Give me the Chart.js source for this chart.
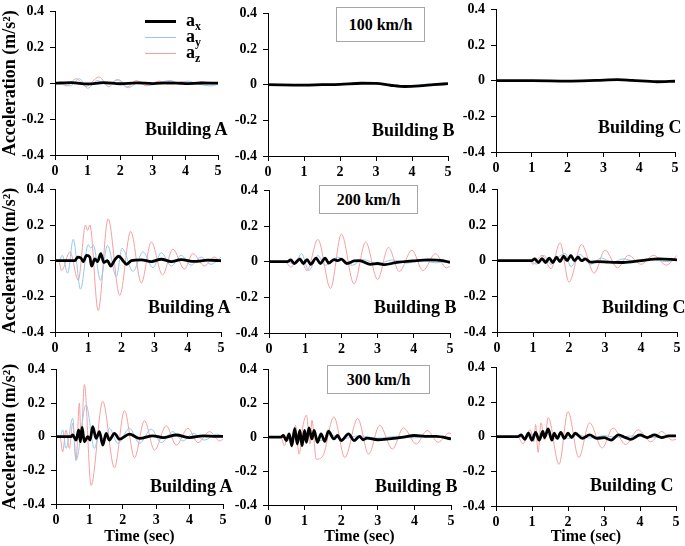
<!DOCTYPE html>
<html>
<head>
<meta charset="utf-8">
<script src="https://cdn.jsdelivr.net/npm/chart.js@4.4.1/dist/chart.umd.min.js"></script>
<style>
  html, body { margin: 0; padding: 0; background: #fff; }
  body { width: 685px; height: 546px; position: relative; overflow: hidden;
         font-family: "Liberation Serif", "Times New Roman", serif; font-weight: bold; color: #000; }
  canvas { position: absolute; }
  .lbl { position: absolute; font-size: 18px; line-height: 22px; white-space: nowrap; z-index: 2; }
  .box { position: absolute; border: 1px solid #a6a6a6; background: #fff; font-size: 16px; z-index: 2;
         display: flex; align-items: center; justify-content: center; box-sizing: border-box; }
  .key { position: absolute; left: 145px; width: 31px; z-index: 2; }
  .keytxt { position: absolute; left: 186px; font-size: 18px; line-height: 20px; z-index: 2; }
  .keytxt sub { font-size: 12px; vertical-align: -4px; }
</style>
</head>
<body>
<script>
// ---- data (time in s, acceleration in m/s^2) ----
const timeTicks = [0, 1, 2, 3, 4, 5];
const accelTicks = [-0.4, -0.2, 0, 0.2, 0.4];
const seriesNames = ["ax", "ay", "az"];
const buildings = ["Building A", "Building B", "Building C"];
const speeds = ["100 km/h", "200 km/h", "300 km/h"];

// 100 km/h
const ax_A100 = [[0,0],[0.5,0.003],[1.0,-0.004],[1.5,0.003],[2.0,-0.003],[2.5,0.002],[3.0,-0.002],[3.5,0.002],[4.0,-0.002],[4.5,0.001],[5,0]];
const ay_A100 = [[0,0],[0.2,0],[0.45,-0.015],[0.75,0.025],[1.0,-0.028],[1.3,0.015],[1.6,-0.01],[1.95,0.02],[2.25,-0.025],[2.6,0.008],[2.9,-0.012],[3.2,0.004],[3.55,0.015],[3.85,-0.008],[4.05,0.012],[4.4,-0.005],[4.8,-0.015],[5,-0.005]];
const az_A100 = [[0,0],[0.15,0],[0.35,-0.015],[0.65,0.025],[0.95,-0.018],[1.35,0.035],[1.65,-0.02],[1.9,0.02],[2.2,-0.022],[2.5,0.015],[2.8,-0.015],[3.2,0.012],[3.5,-0.008],[3.95,0.01],[4.25,-0.005],[4.5,0.008],[4.8,-0.005],[5,0]];
const ax_B100 = [[0,0],[1,-0.002],[1.5,0],[2,0.002],[2.6,0.008],[3.0,0.007],[3.4,-0.003],[3.8,-0.01],[4.2,-0.007],[4.6,0],[5,0.006]];
const ay_B100 = [[0,0],[1,-0.003],[2,0.002],[2.6,0.006],[3.1,0.004],[3.5,-0.006],[4.0,-0.008],[4.4,0.003],[5,0.004]];
const az_B100 = [[0,0],[1,0.002],[2,0.005],[2.6,0.01],[3.0,0.006],[3.6,-0.007],[4.0,-0.009],[4.6,0.002],[5,0.005]];
const ax_C100 = [[0,0],[1,0],[2,-0.002],[2.8,0.002],[3.4,0.006],[3.8,0.002],[4.5,-0.006],[5,-0.003]];
const ay_C100 = [[0,0],[1,-0.002],[2,0],[3,0.003],[3.5,0.004],[4.3,-0.004],[5,-0.002]];
const az_C100 = [[0,0],[1,0.001],[2,-0.003],[3,0.004],[3.5,0.003],[4.4,-0.005],[5,-0.004]];

// 200 km/h
const ax_A200 = [[0,0],[0.6,0],[0.68,0.02],[0.78,0.015],[0.85,-0.005],[0.95,0.03],[1.05,0.02],[1.1,-0.03],[1.2,0.01],[1.28,-0.005],[1.38,0.04],[1.47,-0.01],[1.58,0.0],[1.68,-0.03],[1.8,0.005],[1.92,0.025],[2.05,0.0],[2.15,-0.02],[2.3,0.0],[2.6,0.005],[2.9,-0.005],[3.2,0.008],[3.5,-0.005],[3.8,0.006],[4.2,-0.004],[4.6,0.003],[5,0]];
const ay_A200 = [[0,0],[0.12,0],[0.22,0.03],[0.38,-0.07],[0.55,0.12],[0.77,-0.16],[1.0,0.09],[1.08,0.07],[1.15,0.09],[1.37,-0.11],[1.58,0.085],[1.85,-0.09],[2.02,0.07],[2.35,-0.06],[2.65,0.05],[2.95,-0.04],[3.2,0.045],[3.5,-0.03],[3.8,0.03],[4.1,-0.025],[4.4,0.02],[4.7,-0.02],[5,0.02]];
const az_A200 = [[0,0],[0.1,0],[0.2,-0.055],[0.45,0.05],[0.7,-0.11],[0.92,0.2],[0.98,0.17],[1.05,0.2],[1.3,-0.28],[1.6,0.235],[1.95,-0.195],[2.28,0.165],[2.6,-0.125],[2.9,0.105],[3.24,-0.08],[3.55,0.065],[3.9,-0.047],[4.15,0.04],[4.5,-0.03],[4.8,0.02],[5,-0.01]];
const ax_B200 = [[0,0],[0.5,0],[0.6,0.01],[0.7,-0.01],[0.85,0.015],[0.95,-0.01],[1.05,0.012],[1.15,-0.015],[1.3,0.02],[1.42,-0.01],[1.55,0.02],[1.65,-0.008],[1.8,0.012],[1.9,0.006],[2.0,0.015],[2.15,-0.01],[2.35,0.004],[2.5,0.006],[2.8,-0.015],[3.0,-0.01],[3.2,-0.016],[3.5,-0.005],[4.0,0.005],[4.4,0.01],[4.8,0.006],[5,-0.004]];
const ay_B200 = [[0,0],[0.5,0],[0.7,-0.015],[0.9,0.045],[1.1,-0.05],[1.35,0.035],[1.55,-0.02],[1.9,0.025],[2.3,-0.02],[2.6,0.012],[3.0,-0.012],[3.4,0.01],[3.8,-0.008],[4.2,0.008],[4.6,-0.006],[5,0.004]];
const az_B200 = [[0,0],[0.45,0],[0.6,-0.03],[0.85,0.025],[1.05,-0.05],[1.35,0.125],[1.7,-0.15],[2.0,0.155],[2.35,-0.125],[2.67,0.11],[3.0,-0.1],[3.3,0.08],[3.6,-0.055],[3.95,0.065],[4.25,-0.05],[4.6,0.045],[4.9,-0.035],[5,-0.025]];
const ax_C200 = [[0,0],[0.95,0],[1.05,0.01],[1.15,-0.01],[1.25,0.012],[1.35,-0.01],[1.45,0.015],[1.55,-0.01],[1.65,0.02],[1.75,-0.005],[1.85,0.025],[1.95,0.0],[2.05,0.03],[2.15,0.0],[2.25,0.02],[2.35,0.0],[2.45,0.01],[2.6,-0.008],[2.8,-0.005],[3.1,-0.008],[3.5,-0.01],[4.0,0.0],[4.5,0.01],[5,0.005]];
const ay_C200 = [[0,0],[0.9,0],[1.1,-0.02],[1.3,0.03],[1.5,-0.02],[1.7,0.02],[1.9,0.04],[2.05,-0.035],[2.3,0.035],[2.6,-0.02],[2.9,0.015],[3.2,-0.01],[3.5,0.01],[3.9,-0.006],[4.3,0.006],[4.7,-0.005],[5,0.004]];
const az_C200 = [[0,0],[0.9,0],[1.0,-0.02],[1.25,0.03],[1.5,-0.045],[1.75,0.1],[2.0,-0.12],[2.35,0.09],[2.7,-0.07],[3.0,0.06],[3.35,-0.04],[3.65,0.03],[4.0,-0.02],[4.35,0.03],[4.7,-0.025],[5,0.03]];

// 300 km/h
const ax_A300 = [[0,0],[0.45,0],[0.5,0.01],[0.6,-0.02],[0.68,0.04],[0.73,-0.03],[0.78,0.055],[0.85,-0.03],[0.95,0.0],[1.02,-0.02],[1.1,0.06],[1.2,-0.01],[1.3,0.03],[1.4,-0.05],[1.5,0.02],[1.6,-0.02],[1.75,0.02],[1.9,-0.015],[2.2,0.015],[2.5,-0.01],[2.9,0.005],[3.2,-0.005],[3.6,0.01],[4.0,-0.005],[4.4,0.005],[4.8,0.002],[5,0.002]];
const ay_A300 = [[0,0],[0.12,0],[0.2,0.04],[0.3,-0.07],[0.5,0.11],[0.6,-0.14],[0.9,0.19],[1.15,-0.07],[1.3,0.02],[1.45,-0.03],[1.6,0.05],[1.85,-0.04],[2.2,0.05],[2.5,-0.04],[2.85,0.045],[3.15,-0.035],[3.5,0.03],[3.8,-0.025],[4.1,0.02],[4.45,-0.02],[4.8,0.015],[5,0.005]];
const az_A300 = [[0,0],[0.12,0],[0.2,-0.09],[0.3,0.04],[0.4,-0.07],[0.5,0.08],[0.6,-0.14],[0.7,0.2],[0.75,-0.02],[0.85,0.31],[1.05,-0.29],[1.4,0.21],[1.75,-0.185],[2.05,0.155],[2.35,-0.125],[2.65,0.095],[2.95,-0.08],[3.3,0.065],[3.6,-0.05],[3.95,0.05],[4.25,-0.035],[4.6,0.03],[4.9,-0.025],[5,-0.015]];
const ax_B300 = [[0,0],[0.35,0],[0.42,0.01],[0.5,-0.02],[0.58,0.02],[0.65,-0.05],[0.73,0.05],[0.8,-0.04],[0.87,0.04],[0.93,-0.05],[1.0,0.04],[1.05,-0.03],[1.12,0.055],[1.2,-0.01],[1.26,0.04],[1.35,-0.03],[1.45,0.02],[1.55,-0.025],[1.65,0.035],[1.8,-0.01],[1.9,0.01],[2.0,-0.02],[2.2,0.02],[2.35,-0.02],[2.5,0.005],[2.6,-0.015],[2.7,-0.005],[3.0,-0.015],[3.3,-0.01],[3.7,0.0],[4.0,0.01],[4.3,0.005],[4.6,0.005],[5,-0.01]];
const ay_B300 = [[0,0],[0.4,0],[0.6,-0.02],[0.8,0.02],[1.0,-0.02],[1.2,0.02],[1.45,-0.02],[1.7,0.015],[2.0,-0.01],[2.5,0.008],[3.0,-0.006],[3.5,0.005],[4.0,-0.004],[4.5,0.004],[5,-0.003]];
const az_B300 = [[0,0],[0.35,0],[0.45,-0.05],[0.55,0.02],[0.65,-0.06],[0.75,0.07],[0.85,-0.1],[0.95,0.06],[1.05,0.13],[1.15,-0.04],[1.2,0.1],[1.32,-0.13],[1.5,-0.11],[1.8,0.12],[2.1,-0.12],[2.45,0.11],[2.75,-0.1],[3.05,0.07],[3.4,-0.07],[3.7,0.055],[4.05,-0.04],[4.35,0.04],[4.65,-0.03],[4.95,0.025],[5,0.02]];
const ax_C300 = [[0,0],[0.6,0],[0.7,0.01],[0.8,-0.015],[0.9,0.02],[1.0,-0.02],[1.1,0.025],[1.2,-0.02],[1.3,0.03],[1.35,-0.005],[1.45,0.045],[1.55,-0.02],[1.62,0.02],[1.7,-0.01],[1.8,0.025],[1.9,-0.01],[2.0,0.02],[2.1,-0.005],[2.2,0.02],[2.4,-0.01],[2.6,0.01],[2.8,-0.01],[3.0,-0.005],[3.2,-0.02],[3.4,0.01],[3.6,-0.005],[3.75,-0.015],[4.0,0.01],[4.2,-0.005],[4.4,0.01],[4.6,-0.005],[4.8,0.005],[5,0.005]];
const ay_C300 = [[0,0],[0.6,0],[0.8,-0.01],[1.0,0.015],[1.2,-0.015],[1.4,0.02],[1.6,-0.015],[1.8,0.015],[2.0,-0.01],[2.3,0.01],[2.6,-0.008],[3.0,0.006],[3.4,-0.005],[3.8,0.005],[4.3,-0.004],[5,0.003]];
const az_C300 = [[0,0],[0.6,0],[0.75,-0.04],[0.95,0.04],[1.05,-0.03],[1.1,0.07],[1.17,-0.09],[1.25,0.08],[1.35,-0.02],[1.45,0.11],[1.75,-0.16],[2.0,0.145],[2.3,-0.12],[2.6,0.08],[2.95,-0.065],[3.25,0.05],[3.6,-0.045],[3.95,0.04],[4.3,-0.03],[4.6,0.03],[4.9,-0.02],[5,-0.015]];

const panelData = [
  [[ax_A100, ay_A100, az_A100], [ax_B100, ay_B100, az_B100], [ax_C100, ay_C100, az_C100]],
  [[ax_A200, ay_A200, az_A200], [ax_B200, ay_B200, az_B200], [ax_C200, ay_C200, az_C200]],
  [[ax_A300, ay_A300, az_A300], [ax_B300, ay_B300, az_B300], [ax_C300, ay_C300, az_C300]]
];

// ---- layout / style ----
const FONT = "'Liberation Serif', 'Times New Roman', serif";
const lineColors = ["#000000", "#96c8ef", "#f5a0a0"];
const lineWidths = [2.8, 1, 1];
// plot area [left, top, right, bottom] per row/col
const plotRects = [
  [[55, 7, 218, 155], [268, 9, 448, 156], [496, 5, 675, 152]],
  [[55, 185, 221, 332], [269, 186, 450, 333], [497, 185, 677, 332]],
  [[56, 365, 223, 504], [268, 365, 451, 505], [496, 363, 676, 506]]
];
const labelPos = [
  [[145, 129], [372, 130], [598, 127]],
  [[148, 307], [374, 307], [602, 307]],
  [[150, 486], [375, 486], [590, 485]]
];
const speedBoxes = [[336, 7, 89, 35], [319, 185, 99, 29], [327, 365, 103, 29]];

function makePanel(row, col) {
  const [l, t, r, b] = plotRects[row][col];
  const cl = col === 0 ? 0 : l - 40;
  const ct = t - 10;
  const xh = row === 2 ? 546 - b : 24;
  const cv = document.createElement("canvas");
  cv.width = r + 9 - cl;
  cv.height = b + xh - ct;
  cv.style.left = cl + "px";
  cv.style.top = ct + "px";
  document.body.appendChild(cv);

  const tickFont = { family: FONT, size: 14, weight: 700 };
  new Chart(cv, {
    type: "line",
    data: {
      datasets: panelData[row][col].map((pts, i) => ({
        label: seriesNames[i],
        data: pts.map(p => ({ x: p[0], y: p[1] })),
        borderColor: lineColors[i],
        borderWidth: lineWidths[i],
        pointRadius: 0,
        fill: false,
        cubicInterpolationMode: "monotone"
      }))
    },
    options: {
      responsive: false,
      animation: false,
      events: [],
      layout: { padding: { left: 0, top: 10, right: 9, bottom: 0 } },
      plugins: { legend: { display: false }, tooltip: { enabled: false } },
      scales: {
        x: {
          type: "linear",
          min: timeTicks[0],
          max: timeTicks[timeTicks.length - 1],
          afterFit: s => { s.height = xh; },
          ticks: { stepSize: 1, font: tickFont, color: "#000", padding: 3, maxRotation: 0 },
          grid: { drawOnChartArea: false, tickLength: 5, color: "#000" },
          border: { color: "#000", width: 1 },
          title: { display: row === 2, text: "Time (sec)", color: "#000",
                   font: { family: FONT, size: 16, weight: 700 }, padding: { top: 0, bottom: 0 } }
        },
        y: {
          min: accelTicks[0],
          max: accelTicks[accelTicks.length - 1],
          afterFit: s => { s.width = l - cl; },
          ticks: { stepSize: 0.2, font: tickFont, color: "#000", padding: 6,
                   callback: v => Math.abs(v) < 1e-9 ? "0" : Number(v).toFixed(1) },
          grid: { drawOnChartArea: false, tickLength: 5, color: "#000" },
          border: { color: "#000", width: 1 },
          title: { display: col === 0, text: "Acceleration (m/s²)", color: "#000",
                   font: { family: FONT, size: 18, weight: 700 }, padding: { top: 0, bottom: 0 } }
        }
      }
    }
  });

  const lab = document.createElement("div");
  lab.className = "lbl";
  lab.textContent = buildings[col];
  lab.style.left = labelPos[row][col][0] + "px";
  lab.style.top = (labelPos[row][col][1] - 11) + "px";
  document.body.appendChild(lab);
}

for (let row = 0; row < 3; row++) {
  for (let col = 0; col < 3; col++) makePanel(row, col);
  const [bx, by, bw, bh] = speedBoxes[row];
  const box = document.createElement("div");
  box.className = "box";
  box.textContent = speeds[row];
  Object.assign(box.style, { left: bx + "px", top: by + "px", width: bw + "px", height: bh + "px" });
  document.body.appendChild(box);
}

// legend (top-left panel)
const keyY = [22, 38, 54];
const keySub = ["x", "y", "z"];
keyY.forEach((y, i) => {
  const k = document.createElement("div");
  k.className = "key";
  Object.assign(k.style, { top: (y - Math.ceil(lineWidths[i] / 2)) + "px",
                           height: Math.round(lineWidths[i]) + "px", background: lineColors[i] });
  document.body.appendChild(k);
  const tx = document.createElement("div");
  tx.className = "keytxt";
  tx.style.top = (y - 12) + "px";
  tx.innerHTML = "a<sub>" + keySub[i] + "</sub>";
  document.body.appendChild(tx);
});
</script>
</body>
</html>
